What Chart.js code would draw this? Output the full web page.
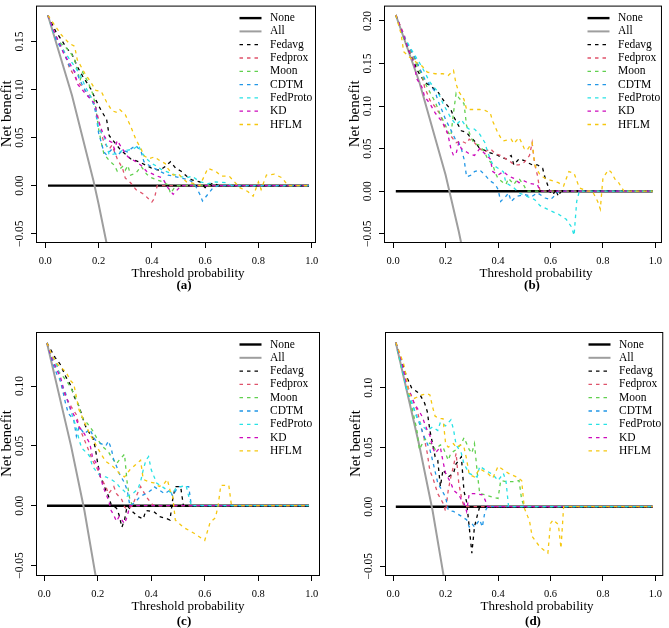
<!DOCTYPE html>
<html>
<head>
<meta charset="utf-8">
<title>Decision curves</title>
<script src="https://cdn.jsdelivr.net/npm/chart.js@4.4.1/dist/chart.umd.min.js"></script>
<style>
  html, body { margin: 0; padding: 0; background: #fff; }
  #page { position: relative; width: 669px; height: 628px; overflow: hidden; }
  .panel { position: absolute; }
</style>
</head>
<body>
<div id="page">
  <div class="panel" style="left:0;top:0;width:335px;height:310px"><canvas id="pa"></canvas></div>
  <div class="panel" style="left:335px;top:0;width:334px;height:310px"><canvas id="pb"></canvas></div>
  <div class="panel" style="left:0;top:310px;width:335px;height:318px"><canvas id="pc"></canvas></div>
  <div class="panel" style="left:335px;top:310px;width:334px;height:318px"><canvas id="pd"></canvas></div>
</div>
<script>
// net benefit curves, [threshold, net benefit]
const modelNames = ['Fedavg', 'Fedprox', 'Moon', 'CDTM', 'FedProto', 'KD', 'HFLM'];
const xTickVals = [0, 0.2, 0.4, 0.6, 0.8, 1.0];
const noneLine = [[0.01, 0], [0.99, 0]];

// (a)
const aAll = [[0.01,0.177],[0.10,0.094],[0.18,0.006],[0.20,-0.019],[0.25,-0.087]];
const aFedavg = [[0.01,0.177],[0.04,0.160],[0.06,0.152],[0.08,0.143],[0.10,0.137],[0.12,0.124],[0.14,0.114],[0.17,0.101],[0.19,0.089],[0.21,0.078],[0.23,0.069],[0.24,0.052],[0.26,0.045],[0.28,0.038],[0.30,0.033],[0.32,0.028],[0.35,0.025],[0.38,0.021],[0.40,0.018],[0.43,0.016],[0.45,0.020],[0.47,0.025],[0.49,0.018],[0.51,0.015],[0.53,0.010],[0.55,0.006],[0.58,0.004],[0.60,-0.002],[0.63,0.003],[0.65,0],[0.99,0]];
const aFedprox = [[0.01,0.177],[0.04,0.155],[0.07,0.140],[0.09,0.123],[0.12,0.109],[0.15,0.099],[0.17,0.093],[0.19,0.079],[0.20,0.069],[0.21,0.055],[0.22,0.045],[0.24,0.038],[0.25,0.042],[0.27,0.028],[0.29,0.018],[0.30,0.008],[0.32,0.003],[0.34,-0.004],[0.37,-0.009],[0.40,-0.017],[0.41,-0.013],[0.42,0],[0.99,0]];
const aMoon = [[0.01,0.177],[0.03,0.160],[0.05,0.150],[0.08,0.143],[0.10,0.136],[0.11,0.131],[0.13,0.109],[0.14,0.118],[0.16,0.108],[0.18,0.094],[0.19,0.080],[0.20,0.059],[0.21,0.045],[0.22,0.033],[0.24,0.026],[0.26,0.021],[0.27,0.015],[0.29,0.020],[0.30,0.016],[0.31,0.021],[0.32,0.011],[0.34,0.013],[0.36,0.020],[0.38,0.012],[0.40,0.008],[0.44,0.004],[0.46,0.001],[0.47,-0.008],[0.49,0],[0.99,0]];
const aCdtm = [[0.01,0.177],[0.04,0.152],[0.07,0.138],[0.09,0.125],[0.12,0.116],[0.14,0.104],[0.16,0.094],[0.18,0.086],[0.19,0.075],[0.20,0.055],[0.22,0.035],[0.23,0.032],[0.25,0.038],[0.27,0.031],[0.29,0.037],[0.31,0.035],[0.32,0.038],[0.34,0.042],[0.36,0.035],[0.37,0.025],[0.39,0.021],[0.41,0.018],[0.43,0.015],[0.46,0.011],[0.48,0.010],[0.51,0.008],[0.54,0.006],[0.56,0.002],[0.58,-0.009],[0.59,-0.016],[0.61,-0.009],[0.63,-0.002],[0.65,0],[0.99,0]];
const aFedproto = [[0.01,0.177],[0.03,0.160],[0.05,0.150],[0.07,0.140],[0.10,0.128],[0.13,0.116],[0.15,0.103],[0.17,0.093],[0.19,0.079],[0.20,0.059],[0.22,0.052],[0.23,0.042],[0.24,0.032],[0.26,0.033],[0.28,0.035],[0.29,0.037],[0.31,0.037],[0.33,0.038],[0.35,0.042],[0.36,0.035],[0.38,0.028],[0.40,0.023],[0.42,0.020],[0.44,0.016],[0.47,0.013],[0.50,0.010],[0.53,0.008],[0.55,0.010],[0.58,0.004],[0.61,0.002],[0.64,0.004],[0.68,0.003],[0.70,0],[0.99,0]];
const aKd = [[0.01,0.177],[0.03,0.162],[0.05,0.150],[0.07,0.137],[0.09,0.128],[0.11,0.118],[0.12,0.106],[0.15,0.096],[0.17,0.090],[0.19,0.084],[0.19,0.076],[0.21,0.059],[0.22,0.052],[0.23,0.048],[0.25,0.045],[0.26,0.038],[0.27,0.047],[0.29,0.038],[0.31,0.030],[0.32,0.028],[0.34,0.025],[0.36,0.021],[0.37,0.018],[0.38,0.015],[0.42,0.010],[0.44,0.008],[0.46,-0.002],[0.48,-0.009],[0.49,-0.006],[0.51,0],[0.99,0]];
const aHflm = [[0.01,0.177],[0.04,0.165],[0.06,0.157],[0.09,0.148],[0.11,0.145],[0.12,0.131],[0.15,0.116],[0.17,0.108],[0.19,0.099],[0.21,0.098],[0.23,0.087],[0.25,0.078],[0.27,0.076],[0.28,0.079],[0.30,0.074],[0.32,0.062],[0.34,0.048],[0.36,0.038],[0.37,0.031],[0.39,0.028],[0.41,0.030],[0.43,0.026],[0.45,0.023],[0.46,0.018],[0.48,0.011],[0.50,0.012],[0.53,0.004],[0.56,0.002],[0.58,0],[0.61,0.018],[0.64,0.015],[0.66,0.010],[0.69,0.010],[0.73,-0.002],[0.76,-0.006],[0.78,-0.011],[0.80,0.004],[0.81,-0.004],[0.83,0.011],[0.86,0.012],[0.89,0.008],[0.91,0],[0.99,0]];

// (b)
const bAll = [[0.01,0.207],[0.10,0.128],[0.20,0.019],[0.25,-0.047],[0.30,-0.121]];
const bFedavg = [[0.01,0.207],[0.04,0.182],[0.06,0.165],[0.08,0.152],[0.09,0.143],[0.12,0.128],[0.14,0.124],[0.17,0.117],[0.20,0.103],[0.22,0.096],[0.23,0.088],[0.26,0.071],[0.28,0.069],[0.29,0.065],[0.31,0.059],[0.33,0.050],[0.35,0.048],[0.36,0.046],[0.38,0.044],[0.40,0.042],[0.41,0.040],[0.43,0.038],[0.45,0.042],[0.46,0.031],[0.48,0.038],[0.50,0.036],[0.51,0.034],[0.53,0.031],[0.55,0.031],[0.57,0.027],[0.58,0.015],[0.60,-0.002],[0.61,-0.004],[0.62,0.002],[0.63,-0.006],[0.64,0],[0.99,0]];
const bFedprox = [[0.01,0.207],[0.04,0.185],[0.06,0.168],[0.08,0.157],[0.10,0.145],[0.11,0.136],[0.12,0.122],[0.14,0.107],[0.16,0.099],[0.18,0.090],[0.19,0.080],[0.20,0.071],[0.22,0.065],[0.24,0.057],[0.26,0.059],[0.28,0.056],[0.29,0.061],[0.31,0.057],[0.33,0.050],[0.35,0.046],[0.37,0.050],[0.39,0.044],[0.41,0.042],[0.43,0.038],[0.45,0.034],[0.46,0.031],[0.48,0.031],[0.50,0.034],[0.52,0.042],[0.53,0.057],[0.54,0.031],[0.55,0.019],[0.56,0],[0.99,0]];
const bMoon = [[0.01,0.207],[0.04,0.180],[0.07,0.160],[0.10,0.142],[0.13,0.122],[0.16,0.105],[0.18,0.090],[0.20,0.077],[0.21,0.069],[0.22,0.065],[0.23,0.092],[0.24,0.115],[0.25,0.110],[0.27,0.103],[0.28,0.077],[0.29,0.069],[0.30,0.061],[0.31,0.056],[0.33,0.054],[0.35,0.045],[0.36,0.038],[0.38,0.031],[0.39,0.021],[0.40,0.015],[0.42,0.010],[0.43,0.008],[0.44,0.015],[0.46,0.008],[0.47,0.012],[0.48,0.015],[0.50,0.006],[0.51,0],[0.99,0]];
const bCdtm = [[0.01,0.207],[0.04,0.182],[0.06,0.170],[0.08,0.159],[0.10,0.145],[0.12,0.132],[0.14,0.125],[0.16,0.117],[0.17,0.107],[0.19,0.092],[0.20,0.084],[0.22,0.072],[0.24,0.059],[0.25,0.057],[0.26,0.050],[0.27,0.038],[0.28,0.017],[0.30,0.019],[0.31,0.023],[0.33,0.025],[0.35,0.019],[0.37,0.012],[0.39,0.008],[0.40,0.002],[0.41,-0.012],[0.43,-0.006],[0.44,-0.002],[0.45,-0.012],[0.47,-0.006],[0.50,-0.004],[0.53,-0.006],[0.55,-0.002],[0.58,-0.008],[0.60,-0.010],[0.62,-0.004],[0.63,0],[0.99,0]];
const bFedproto = [[0.01,0.207],[0.03,0.190],[0.05,0.177],[0.07,0.166],[0.10,0.151],[0.12,0.140],[0.14,0.128],[0.17,0.117],[0.19,0.103],[0.22,0.086],[0.24,0.078],[0.26,0.084],[0.28,0.075],[0.29,0.073],[0.31,0.073],[0.33,0.067],[0.35,0.057],[0.36,0.046],[0.38,0.031],[0.40,0.027],[0.42,0.023],[0.43,0.010],[0.46,0.004],[0.48,-0.002],[0.51,-0.006],[0.54,-0.010],[0.56,-0.017],[0.60,-0.023],[0.63,-0.027],[0.66,-0.033],[0.68,-0.042],[0.69,-0.052],[0.70,-0.012],[0.71,0],[0.99,0]];
const bKd = [[0.01,0.207],[0.04,0.183],[0.06,0.165],[0.08,0.150],[0.09,0.132],[0.11,0.122],[0.12,0.111],[0.14,0.103],[0.16,0.092],[0.18,0.084],[0.20,0.075],[0.21,0.065],[0.22,0.050],[0.23,0.042],[0.24,0.044],[0.25,0.057],[0.26,0.050],[0.28,0.046],[0.29,0.044],[0.31,0.042],[0.33,0.050],[0.35,0.044],[0.37,0.038],[0.38,0.023],[0.40,0.019],[0.42,0.023],[0.44,0.018],[0.46,0.015],[0.48,0.010],[0.50,0.012],[0.52,0.009],[0.55,0.008],[0.56,0],[0.99,0]];
const bHflm = [[0.01,0.207],[0.03,0.185],[0.04,0.164],[0.06,0.158],[0.09,0.151],[0.11,0.147],[0.13,0.140],[0.16,0.138],[0.19,0.138],[0.21,0.136],[0.23,0.142],[0.24,0.126],[0.25,0.117],[0.27,0.108],[0.28,0.096],[0.31,0.096],[0.33,0.096],[0.35,0.095],[0.37,0.092],[0.38,0.082],[0.40,0.068],[0.41,0.063],[0.42,0.059],[0.45,0.061],[0.46,0.056],[0.48,0.063],[0.49,0.057],[0.50,0.050],[0.51,0.048],[0.53,0.057],[0.54,0.031],[0.56,0.019],[0.58,0.015],[0.61,0.012],[0.63,0.010],[0.65,0.006],[0.67,0.023],[0.69,0.021],[0.71,0.004],[0.74,0],[0.76,0],[0.78,-0.012],[0.79,-0.021],[0.80,0.015],[0.82,0.025],[0.83,0.023],[0.85,0.012],[0.86,0.010],[0.88,0],[0.99,0]];

// (c)
const cAll = [[0.01,0.136],[0.10,0.050],[0.15,-0.004],[0.20,-0.069]];
const cFedavg = [[0.01,0.136],[0.03,0.128],[0.04,0.124],[0.06,0.118],[0.08,0.108],[0.10,0.100],[0.11,0.092],[0.13,0.083],[0.15,0.069],[0.16,0.063],[0.18,0.058],[0.19,0.049],[0.20,0.035],[0.21,0.024],[0.22,0.019],[0.23,0.013],[0.24,0.008],[0.25,0.001],[0.27,-0.002],[0.28,-0.008],[0.29,-0.018],[0.30,-0.012],[0.31,0],[0.33,-0.005],[0.35,-0.009],[0.37,-0.011],[0.38,-0.004],[0.41,-0.005],[0.43,-0.009],[0.46,-0.011],[0.47,-0.012],[0.48,0.005],[0.49,0.016],[0.51,0.016],[0.52,0],[0.99,0]];
const cFedprox = [[0.01,0.136],[0.03,0.125],[0.05,0.116],[0.06,0.103],[0.08,0.091],[0.10,0.083],[0.12,0.076],[0.13,0.066],[0.15,0.055],[0.17,0.044],[0.18,0.038],[0.20,0.030],[0.21,0.024],[0.23,0.016],[0.24,0.010],[0.26,0.016],[0.27,0.010],[0.29,0.005],[0.30,-0.001],[0.31,-0.003],[0.33,0],[0.34,0.006],[0.36,0.016],[0.37,0.012],[0.38,0.008],[0.40,0.002],[0.41,0],[0.99,0]];
const cMoon = [[0.01,0.136],[0.03,0.122],[0.05,0.113],[0.07,0.108],[0.09,0.102],[0.11,0.094],[0.13,0.083],[0.14,0.074],[0.16,0.069],[0.18,0.063],[0.20,0.055],[0.22,0.049],[0.24,0.045],[0.25,0.041],[0.27,0.035],[0.28,0.038],[0.30,0.043],[0.31,0.019],[0.32,0.005],[0.33,0],[0.99,0]];
const cCdtm = [[0.01,0.136],[0.03,0.120],[0.05,0.108],[0.06,0.105],[0.08,0.085],[0.09,0.077],[0.11,0.072],[0.12,0.058],[0.13,0.066],[0.15,0.060],[0.17,0.064],[0.19,0.055],[0.21,0.052],[0.23,0.050],[0.24,0.054],[0.25,0.048],[0.26,0.038],[0.27,0.033],[0.28,0.027],[0.30,0.019],[0.31,0.013],[0.32,0],[0.34,0.003],[0.36,0.008],[0.38,0.010],[0.40,0.013],[0.41,0.016],[0.43,0.013],[0.45,0.010],[0.47,0.013],[0.48,0.008],[0.50,0.016],[0.54,0.016],[0.55,0],[0.99,0]];
const cFedproto = [[0.01,0.136],[0.03,0.124],[0.05,0.116],[0.06,0.105],[0.08,0.094],[0.09,0.085],[0.11,0.072],[0.12,0.065],[0.13,0.055],[0.14,0.048],[0.16,0.044],[0.17,0.041],[0.18,0.033],[0.20,0.027],[0.21,0.025],[0.23,0.024],[0.25,0.022],[0.27,0.019],[0.28,0.016],[0.30,0.012],[0.31,0.008],[0.33,0.010],[0.35,0.014],[0.36,0.020],[0.37,0.030],[0.38,0.038],[0.39,0.041],[0.40,0.030],[0.42,0.019],[0.44,0.016],[0.46,0.013],[0.48,0.010],[0.49,0.014],[0.51,0.016],[0.53,0.017],[0.54,0.008],[0.55,0],[0.99,0]];
const cKd = [[0.01,0.136],[0.03,0.122],[0.05,0.112],[0.06,0.108],[0.07,0.099],[0.09,0.086],[0.10,0.080],[0.12,0.072],[0.13,0.066],[0.15,0.060],[0.17,0.052],[0.18,0.041],[0.20,0.033],[0.21,0.024],[0.22,0.016],[0.23,0.010],[0.24,0.005],[0.25,-0.004],[0.26,-0.008],[0.27,-0.013],[0.28,-0.009],[0.30,-0.015],[0.31,-0.009],[0.32,0],[0.99,0]];
const cHflm = [[0.01,0.136],[0.03,0.125],[0.05,0.118],[0.06,0.116],[0.08,0.112],[0.09,0.108],[0.10,0.104],[0.11,0.102],[0.12,0.091],[0.13,0.080],[0.15,0.070],[0.17,0.060],[0.19,0.052],[0.21,0.044],[0.23,0.037],[0.25,0.034],[0.27,0.030],[0.28,0.027],[0.30,0.024],[0.32,0.030],[0.34,0.034],[0.36,0.038],[0.37,0.022],[0.39,0.020],[0.41,0.019],[0.43,0.016],[0.45,0.019],[0.46,0.022],[0.47,0.013],[0.48,0.008],[0.49,-0.012],[0.52,-0.018],[0.56,-0.023],[0.60,-0.029],[0.62,-0.014],[0.64,-0.010],[0.65,0],[0.66,0.017],[0.69,0.017],[0.70,0],[0.99,0]];

// (d)
const dAll = [[0.01,0.138],[0.10,0.051],[0.15,-0.003],[0.20,-0.068]];
const dFedavg = [[0.01,0.138],[0.03,0.124],[0.05,0.110],[0.07,0.100],[0.10,0.095],[0.12,0.087],[0.13,0.080],[0.14,0.064],[0.16,0.042],[0.17,0.039],[0.18,0.017],[0.19,0.031],[0.20,0.028],[0.21,0.025],[0.23,0.028],[0.24,0.036],[0.26,0.042],[0.27,0.013],[0.28,0.004],[0.29,-0.017],[0.30,-0.039],[0.31,-0.017],[0.32,-0.008],[0.33,0],[0.99,0]];
const dFedprox = [[0.01,0.138],[0.03,0.120],[0.05,0.105],[0.07,0.092],[0.09,0.082],[0.11,0.064],[0.12,0.056],[0.13,0.045],[0.14,0.030],[0.15,0.025],[0.16,0.018],[0.17,0.011],[0.19,0.003],[0.20,-0.004],[0.21,0.014],[0.22,0.025],[0.23,0.034],[0.24,0.045],[0.25,0.020],[0.26,0.008],[0.27,0],[0.99,0]];
const dMoon = [[0.01,0.138],[0.03,0.118],[0.05,0.100],[0.07,0.085],[0.09,0.065],[0.10,0.048],[0.12,0.057],[0.14,0.053],[0.15,0.053],[0.16,0.048],[0.18,0.052],[0.19,0.050],[0.21,0.039],[0.22,0.045],[0.24,0.048],[0.26,0.053],[0.27,0.058],[0.29,0.048],[0.30,0.045],[0.31,0.053],[0.32,0.030],[0.33,0.011],[0.35,0.010],[0.38,0.008],[0.40,0.007],[0.41,0.022],[0.43,0.021],[0.46,0.021],[0.48,0.022],[0.49,0.006],[0.50,0],[0.99,0]];
const dCdtm = [[0.01,0.138],[0.03,0.122],[0.05,0.100],[0.07,0.088],[0.09,0.076],[0.11,0.064],[0.12,0.058],[0.14,0.048],[0.15,0.039],[0.17,0.020],[0.19,0.012],[0.20,0.008],[0.21,-0.003],[0.23,-0.004],[0.26,-0.008],[0.28,-0.011],[0.29,-0.017],[0.30,-0.014],[0.31,-0.017],[0.33,-0.011],[0.34,-0.017],[0.35,-0.004],[0.36,0],[0.99,0]];
const dFedproto = [[0.01,0.138],[0.03,0.120],[0.05,0.100],[0.07,0.088],[0.09,0.075],[0.11,0.068],[0.13,0.064],[0.15,0.067],[0.17,0.064],[0.18,0.071],[0.20,0.068],[0.22,0.073],[0.23,0.065],[0.24,0.052],[0.26,0.045],[0.27,0.036],[0.29,0.028],[0.30,0.027],[0.32,0.025],[0.33,0.034],[0.35,0.031],[0.38,0.027],[0.40,0.022],[0.42,0.028],[0.43,0.022],[0.44,0],[0.99,0]];
const dKd = [[0.01,0.138],[0.03,0.124],[0.05,0.104],[0.07,0.093],[0.08,0.087],[0.10,0.080],[0.11,0.076],[0.13,0.064],[0.14,0.060],[0.15,0.050],[0.16,0.045],[0.18,0.050],[0.19,0.038],[0.20,0.028],[0.22,0.020],[0.23,0.014],[0.25,0.010],[0.26,0.006],[0.27,0.003],[0.28,-0.004],[0.29,0.011],[0.31,0.011],[0.34,0.010],[0.35,0.006],[0.36,0],[0.99,0]];
const dHflm = [[0.01,0.138],[0.03,0.126],[0.04,0.120],[0.05,0.110],[0.06,0.095],[0.08,0.091],[0.09,0.092],[0.11,0.094],[0.13,0.095],[0.14,0.094],[0.15,0.084],[0.16,0.076],[0.18,0.074],[0.19,0.074],[0.20,0.053],[0.21,0.050],[0.23,0.053],[0.24,0.050],[0.26,0.052],[0.27,0.050],[0.28,0.040],[0.29,0.027],[0.31,0.025],[0.33,0.032],[0.36,0.028],[0.38,0.024],[0.40,0.034],[0.42,0.031],[0.44,0.028],[0.47,0.025],[0.49,0.022],[0.50,-0.001],[0.52,-0.012],[0.53,-0.025],[0.56,-0.034],[0.59,-0.039],[0.60,-0.014],[0.61,-0.011],[0.63,-0.015],[0.64,-0.035],[0.65,0],[0.99,0]];

// R 4.x default palette
const modelColors = ['#000000', '#DF536B', '#61D04F', '#2297E6', '#28E2E5', '#CD0BBC', '#F5C710'];
const allColor = '#9E9E9E';
const SERIF = '"Liberation Serif", "Times New Roman", serif';
const DASH = [3.5, 4];
const YW = 37, XH = 30;

const panels = [
  { id: 'pa', cap: '(a)', w: 335, h: 310, box: { l: 37, r: 315, t: 1, b: 242 }, capDy: 43.5,
    x: [-0.0312, 1.0124], y: [-0.0586, 0.1863], yTicks: [-0.05, 0, 0.05, 0.10, 0.15],
    all: aAll, models: [aFedavg, aFedprox, aMoon, aCdtm, aFedproto, aKd, aHflm] },
  { id: 'pb', cap: '(b)', w: 334, h: 310, box: { l: 50, r: 330, t: 1, b: 242 }, capDy: 43.5,
    x: [-0.0312, 1.0214], y: [-0.0597, 0.2169], yTicks: [-0.05, 0, 0.05, 0.10, 0.15, 0.20],
    all: bAll, models: [bFedavg, bFedprox, bMoon, bCdtm, bFedproto, bKd, bHflm] },
  { id: 'pc', cap: '(c)', w: 335, h: 318, box: { l: 37, r: 319, t: 23, b: 265 }, capDy: 46.5,
    x: [-0.0273, 1.0273], y: [-0.0579, 0.1443], yTicks: [-0.05, 0, 0.05, 0.10],
    all: cAll, models: [cFedavg, cFedprox, cMoon, cCdtm, cFedproto, cKd, cHflm] },
  { id: 'pd', cap: '(d)', w: 334, h: 318, box: { l: 51, r: 332, t: 23, b: 265 }, capDy: 46.5,
    x: [-0.0274, 1.0262], y: [-0.0574, 0.146], yTicks: [-0.05, 0, 0.05, 0.10],
    all: dAll, models: [dFedavg, dFedprox, dMoon, dCdtm, dFedproto, dKd, dHflm] }
];

function pts(arr) {
  return arr.map(([x, y]) => ({ x, y }));
}

function fmtY(v) {
  const s = Math.abs(v).toFixed(2);
  return v < 0 ? '\u2212' + s : s;
}

// box, rotated y labels, axis titles, caption and legend, R style
function decorPlugin(p) {
  return {
    id: 'decor' + p.id,
    afterDraw(chart) {
      const { ctx, chartArea: a } = chart;
      const ys = chart.scales.y;
      ctx.save();
      ctx.strokeStyle = '#000';
      ctx.lineWidth = 1;
      ctx.setLineDash([]);
      ctx.strokeRect(a.left - 0.5, a.top - 0.5, a.right - a.left + 1, a.bottom - a.top + 1);

      ctx.fillStyle = '#000';
      ctx.textAlign = 'center';
      ctx.textBaseline = 'middle';
      ctx.font = '11.5px ' + SERIF;
      p.yTicks.forEach(v => {
        ctx.save();
        ctx.translate(a.left - 16.6, ys.getPixelForValue(v));
        ctx.rotate(-Math.PI / 2);
        ctx.fillText(fmtY(v), 0, 0);
        ctx.restore();
      });

      ctx.save();
      ctx.font = '15px ' + SERIF;
      ctx.translate(a.left - 30.3, (a.top + a.bottom) / 2 - 10.5);
      ctx.rotate(-Math.PI / 2);
      ctx.fillText('Net benefit', 0, 0);
      ctx.restore();

      ctx.font = '13px ' + SERIF;
      ctx.fillText('Threshold probability', a.left + 151, a.bottom + 32);
      ctx.font = 'bold 13px ' + SERIF;
      ctx.fillText(p.cap, a.left + 147, a.bottom + p.capDy);

      const entries = [
        { n: 'None', c: '#000', w: 2.4, d: [] },
        { n: 'All', c: allColor, w: 2, d: [] }
      ].concat(modelNames.map((n, i) => ({ n, c: modelColors[i], w: 1.3, d: DASH })));
      ctx.font = '11.5px ' + SERIF;
      ctx.textAlign = 'left';
      entries.forEach((e, i) => {
        const yy = a.top + 11.5 + i * 13.3;
        ctx.beginPath();
        ctx.setLineDash(e.d);
        ctx.strokeStyle = e.c;
        ctx.lineWidth = e.w;
        ctx.moveTo(a.left + 202.5, yy);
        ctx.lineTo(a.left + 224.5, yy);
        ctx.stroke();
        ctx.setLineDash([]);
        ctx.fillText(e.n, a.left + 233, yy);
      });
      ctx.restore();
    }
  };
}

function drawPanel(p) {
  const datasets = [
    { label: 'None', data: pts(noneLine), borderColor: '#000', borderWidth: 2.4, order: 100, clip: 0 },
    { label: 'All', data: pts(p.all), borderColor: allColor, borderWidth: 2, order: 90, clip: 0 }
  ];
  p.models.forEach((m, i) => {
    datasets.push({
      label: modelNames[i],
      data: pts(m),
      borderColor: modelColors[i],
      borderWidth: 1.3,
      borderDash: DASH,
      order: 10 - i,
      clip: 0
    });
  });

  const tickGrid = { drawOnChartArea: false, drawTicks: true, tickLength: 6, color: '#000', lineWidth: 1 };

  return new Chart(document.getElementById(p.id), {
    type: 'line',
    data: { datasets },
    options: {
      responsive: true,
      maintainAspectRatio: false,
      animation: false,
      events: [],
      layout: {
        padding: { left: p.box.l - YW, right: p.w - p.box.r, top: p.box.t, bottom: p.h - p.box.b - XH }
      },
      elements: {
        point: { radius: 0 },
        line: { tension: 0, fill: false, borderCapStyle: 'butt' }
      },
      scales: {
        x: {
          type: 'linear',
          min: p.x[0],
          max: p.x[1],
          afterBuildTicks: s => { s.ticks = xTickVals.map(v => ({ value: v })); },
          afterFit: s => { s.height = XH; },
          grid: tickGrid,
          border: { display: false },
          ticks: {
            color: '#000',
            font: { family: SERIF, size: 10.5 },
            padding: 7,
            maxRotation: 0,
            autoSkip: false,
            callback: v => Number(v).toFixed(1)
          }
        },
        y: {
          type: 'linear',
          min: p.y[0],
          max: p.y[1],
          afterBuildTicks: s => { s.ticks = p.yTicks.map(v => ({ value: v })); },
          afterFit: s => { s.width = YW; },
          grid: tickGrid,
          border: { display: false },
          ticks: { color: 'rgba(0,0,0,0)', font: { size: 6 } }
        }
      },
      plugins: {
        legend: { display: false },
        tooltip: { enabled: false },
        title: { display: false }
      }
    },
    plugins: [decorPlugin(p)]
  });
}

panels.forEach(drawPanel);
</script>
</body>
</html>
